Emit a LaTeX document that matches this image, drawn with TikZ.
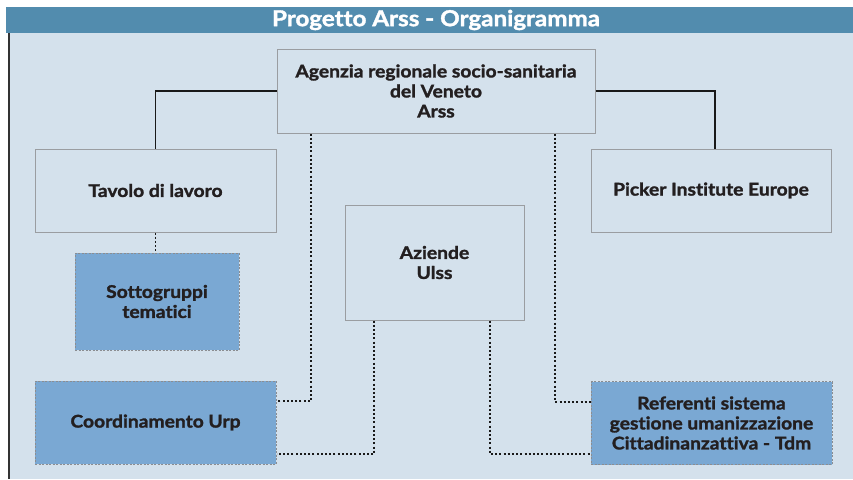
\documentclass[tikz,border=0pt]{standalone}
\usepackage{fontspec}
\setmainfont{Lato}[FakeStretch=1.1, Ligatures=NoCommon, BoldFeatures={FakeBold=1.6}]
\definecolor{titlebar}{HTML}{528CAE}
\definecolor{bgblue}{HTML}{D4E1EC}
\definecolor{boxblue}{HTML}{7AA8D3}
\definecolor{boxline}{HTML}{9A9DA1}
\definecolor{txt}{HTML}{231F20}
\begin{document}
\begin{tikzpicture}[x=1pt,y=-1pt,
  box/.style={draw=boxline, line width=1pt, fill=bgblue, align=center, text=txt,
    font=\fontsize{17.5}{20}\selectfont\bfseries, inner sep=0pt},
  bluebox/.style={box, fill=boxblue, dash pattern=on 2pt off 1.5pt, line width=1pt, draw=boxline!90!black},
  solidlink/.style={draw=black!90, line width=1.6pt},
  dotlink/.style={draw=black!90, line width=1.6pt, dash pattern=on 2pt off 2.2pt},
]
\useasboundingbox (0,0) rectangle (853,479);
\fill[white] (0,0) rectangle (853,479);
\fill[bgblue] (9,33) rectangle (853,479);
\fill[titlebar] (6,7) rectangle (853,33);
\draw[black!80, line width=1.3pt] (9,33) -- (9,479);
\node[text=white, font=\fontsize{22}{24}\selectfont\bfseries] (title) at (436,20) {Progetto Arss - Organigramma};

\node[box, minimum width=318pt, minimum height=84pt] (agz) at (436,91)
  {Agenzia regionale socio-sanitaria\\del Veneto\\Arss};
\node[box, minimum width=241pt, minimum height=83pt] (tav) at (155.5,190.5) {Tavolo di lavoro};
\node[box, minimum width=240pt, minimum height=83pt] (pick) at (711,190.5) {Picker Institute Europe};
\node[box, minimum width=179pt, minimum height=115pt] (azi) at (434.5,262.5) {Aziende\\Ulss};
\node[bluebox, minimum width=164pt, minimum height=97pt] (sot) at (157,301.5) {Sottogruppi\\tematici};
\node[bluebox, minimum width=241pt, minimum height=83pt] (coord) at (155.5,422.5) {Coordinamento Urp};
\node[bluebox, minimum width=241pt, minimum height=83pt] (ref) at (711.5,423) {Referenti sistema\\gestione umanizzazione\\Cittadinanzattiva - Tdm};

\draw[solidlink] (agz.west) -| (tav.north);
\draw[solidlink] (agz.east) -| ([xshift=4pt]pick.north);
\draw[dotlink] (tav.south) -- (tav.south |- sot.north);
\draw[dotlink] ([xshift=-125pt]agz.south) |- ([yshift=21.5pt]coord.east);
\draw[dotlink] ([xshift=119pt]agz.south) |- ([yshift=21pt]ref.west);
\draw[dotlink] ([xshift=-60.5pt]azi.south) |- ([yshift=-31.5pt]coord.east);
\draw[dotlink] ([xshift=55.5pt]azi.south) |- ([yshift=-31pt]ref.west);
\end{tikzpicture}
\end{document}
